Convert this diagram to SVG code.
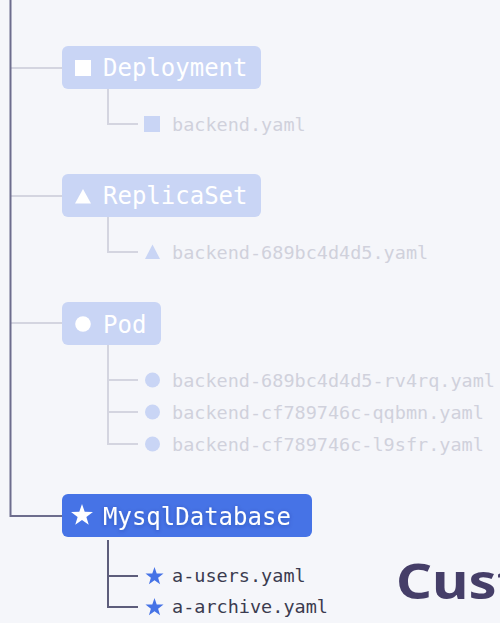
<svg xmlns="http://www.w3.org/2000/svg" width="500" height="623" viewBox="0 0 500 623">
<style>
.bg{fill:#f5f6fa}
.trunk{stroke:#6d6d8d;stroke-width:2;fill:none}
.lc{stroke:#d4d5e0;stroke-width:2;fill:none}
.dc{stroke:#5d5d7b;stroke-width:2;fill:none}
.lbox{fill:#c9d5f5}
.dbox{fill:#4673e6}
.title{font-family:"DejaVu Sans Mono","Liberation Mono",monospace;font-size:24px;fill:#ffffff}
.file{font-family:"DejaVu Sans Mono","Liberation Mono",monospace;font-size:18.5px}
.lfile{fill:#d0d1dc}
.dfile{fill:#3b3b4f}
.licon{fill:#c9d5f5}
.wicon{fill:#ffffff}
.bicon{fill:#4673e6}
.big{font-family:"Noto Sans","Open Sans",sans-serif;font-weight:700;font-size:48px;fill:#453e68}
</style>
<defs>
<polygon id="star" points="0,-10 2.351,-3.236 9.511,-3.090 3.804,1.236 5.878,8.090 0,4 -5.878,8.090 -3.804,1.236 -9.511,-3.090 -2.351,-3.236"/>
<filter id="ts" x="-10%" y="-30%" width="120%" height="160%">
<feDropShadow dx="0" dy="1" stdDeviation="2" flood-color="#1a2a66" flood-opacity="0.35"/>
</filter>
</defs>
<rect class="bg" x="0" y="0" width="500" height="623"/>
<g id="connectors">
<path class="lc" d="M11 68H62M11 196H62M11 323H62"/>
<path class="trunk" d="M10.5 0V516H62"/>
<path class="lc" d="M108 89V124H138"/>
<path class="lc" d="M108 217V252H138"/>
<path class="lc" d="M108 345V444H138M108 380H138M108 412H138"/>
<path class="dc" d="M108 540V607H138M108 576H138"/>
</g>
<g id="deployment">
<rect class="lbox" x="62" y="46" width="199" height="43" rx="6"/>
<rect class="wicon" x="75" y="60" width="16" height="16"/>
<text class="title" x="103" y="76">Deployment</text>
</g>
<g id="backend-yaml">
<rect class="licon" x="144" y="116" width="16" height="16"/>
<text class="file lfile" x="172" y="131">backend.yaml</text>
</g>
<g id="replicaset">
<rect class="lbox" x="62" y="174" width="199" height="43" rx="6"/>
<polygon class="wicon" points="75,203.5 91,203.5 83,189"/>
<text class="title" x="103" y="204">ReplicaSet</text>
</g>
<g id="rs-yaml">
<polygon class="licon" points="145,259 160,259 152.5,244.5"/>
<text class="file lfile" x="172" y="259">backend-689bc4d4d5.yaml</text>
</g>
<g id="pod">
<rect class="lbox" x="62" y="302" width="99" height="43" rx="6"/>
<circle class="wicon" cx="83" cy="324" r="7.8"/>
<text class="title" x="103" y="333">Pod</text>
</g>
<g id="pod-yaml-1">
<circle class="licon" cx="152.5" cy="380" r="7.5"/>
<text class="file lfile" x="172" y="387">backend-689bc4d4d5-rv4rq.yaml</text>
</g>
<g id="pod-yaml-2">
<circle class="licon" cx="152.5" cy="412" r="7.5"/>
<text class="file lfile" x="172" y="419">backend-cf789746c-qqbmn.yaml</text>
</g>
<g id="pod-yaml-3">
<circle class="licon" cx="152.5" cy="444" r="7.5"/>
<text class="file lfile" x="172" y="451">backend-cf789746c-l9sfr.yaml</text>
</g>
<g id="mysqldatabase">
<rect class="dbox" x="62" y="494" width="250" height="43" rx="6"/>
<use href="#star" class="wicon" transform="translate(82,515.5) scale(1.15)"/>
<text class="title" x="103" y="525" filter="url(#ts)">MysqlDatabase</text>
</g>
<g id="a-users">
<use href="#star" class="bicon" transform="translate(154.5,576.5) scale(0.95)"/>
<text class="file dfile" x="172" y="582">a-users.yaml</text>
</g>
<g id="a-archive">
<use href="#star" class="bicon" transform="translate(154.5,607.5) scale(0.95)"/>
<text class="file dfile" x="172" y="613">a-archive.yaml</text>
</g>
<text class="big" x="0" y="599" transform="translate(396,0) scale(1.17,1)">Cust</text>
</svg>
